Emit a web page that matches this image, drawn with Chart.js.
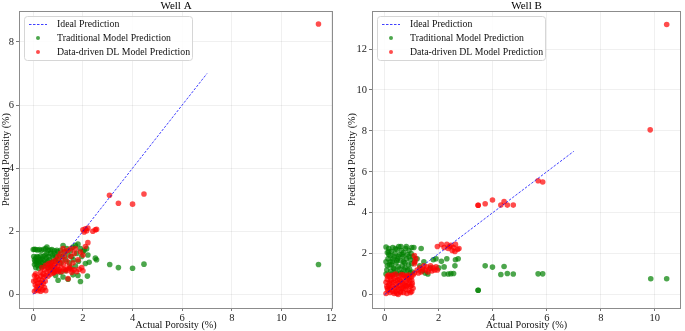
<!DOCTYPE html>
<html lang="en">
<head>
<meta charset="UTF-8">
<title>Porosity prediction - Well A / Well B</title>
<script src="https://cdn.jsdelivr.net/npm/chart.js@4.4.1/dist/chart.umd.min.js"></script>
<style>
  body { margin: 0; background: #fff; }
  #wrap { position: relative; width: 685px; height: 331px; overflow: hidden; }
  #chartA { position: absolute; left: 0; top: 0; }
  #chartB { position: absolute; left: 340px; top: 0; }
</style>
</head>
<body>
<div id="wrap">
  <canvas id="chartA" width="340" height="331"></canvas>
  <canvas id="chartB" width="345" height="331"></canvas>
</div>

<!-- data: [actual, predicted] -->
<script>
const idealX = [0, 7];
const idealY = [0, 7];

const xTicksA = [0, 2, 4, 6, 8, 10, 12];
const yTicksA = [0, 2, 4, 6, 8];
const xTicksB = [0, 2, 4, 6, 8, 10];
const yTicksB = [0, 2, 4, 6, 8, 10, 12];

const wellATraditional = [
  [0.0,1.42],[0.05,1.43],[0.1,1.42],[0.18,1.41],[0.25,1.42],[0.33,1.4],[0.42,1.43],[0.5,1.45],[0.55,1.5],
  [0.6,1.4],[0.68,1.41],[0.75,1.42],[0.85,1.38],[0.95,1.4],
  [0.02,1.2],[0.05,1.1],[0.05,0.95],[0.08,1.05],[0.1,1.15],[0.1,0.85],[0.12,0.98],[0.15,1.2],[0.15,1.08],
  [0.18,0.92],[0.2,1.02],[0.2,1.18],[0.22,0.82],[0.25,1.1],[0.27,0.95],[0.3,1.22],[0.3,1.05],[0.33,0.88],
  [0.35,1.12],[0.38,1.0],[0.4,1.2],[0.42,0.9],[0.45,1.08],[0.48,1.25],[0.5,0.98],[0.52,1.15],[0.55,1.3],
  [0.58,1.05],[0.62,1.2],[0.65,1.1],[0.7,1.3],[0.72,1.0],[0.78,1.25],[0.8,1.15],[0.85,1.3],[0.9,1.05],
  [0.92,1.2],[0.98,1.35],[1.0,1.1],[1.05,1.25],[1.1,1.4],[1.12,1.0],[1.18,1.2],[1.2,1.55],[1.25,1.35],
  [1.3,1.1],[1.35,1.45],[1.4,1.25],[1.45,1.0],[1.5,1.38],[1.55,1.2],[1.6,1.5],[1.62,1.1],[1.7,1.55],
  [1.75,1.3],[1.8,1.6],[1.82,1.05],[1.9,1.45],[1.95,1.2],[2.0,1.35],[2.05,1.4],[2.1,0.98],[2.15,1.45],
  [2.2,1.25],[2.25,1.02],[2.5,1.15],[2.55,1.1],
  [1.0,0.45],[1.2,0.55],[1.4,0.48],[1.6,0.62],[1.8,0.6],[1.9,0.41],[2.18,0.58],[0.9,0.6],[1.1,0.7],
  [1.3,0.75],[1.5,0.85],[1.7,0.9],[0.6,0.85],[0.7,0.9],[0.8,0.75],
  [3.08,0.95],[3.43,0.85],[4.0,0.83],[4.46,0.96],[11.49,0.95]
];

const wellADL = [
  [0.05,0.1],[0.08,0.3],[0.1,0.45],[0.12,0.15],[0.15,0.25],[0.15,0.55],[0.18,0.35],[0.2,0.12],[0.22,0.48],
  [0.25,0.2],[0.28,0.38],[0.3,0.1],[0.3,0.58],[0.33,0.28],[0.35,0.45],[0.38,0.15],[0.4,0.35],[0.42,0.55],
  [0.45,0.22],[0.48,0.42],[0.5,0.12],[0.02,0.42],[0.05,0.6],[0.1,0.65],
  [0.3,0.7],[0.35,0.85],[0.4,0.65],[0.45,0.78],[0.5,0.6],[0.5,0.92],[0.55,0.72],[0.58,0.85],[0.6,0.58],
  [0.62,0.98],[0.65,0.75],[0.68,0.88],[0.7,0.65],[0.72,1.0],[0.75,0.8],[0.78,0.92],[0.8,0.68],[0.82,1.05],
  [0.85,0.85],[0.88,0.75],[0.9,0.95],[0.92,1.1],[0.95,0.8],[0.98,0.9],[1.0,1.2],[1.02,0.72],
  [1.05,1.0],[1.1,1.3],[1.12,0.85],[1.15,1.1],[1.2,1.45],[1.22,0.95],[1.25,1.2],[1.3,1.35],[1.32,0.8],
  [1.35,1.05],[1.4,1.4],[1.45,0.9],[1.5,1.2],[1.52,1.45],[1.55,0.78],[1.6,1.0],[1.65,1.3],
  [0.85,0.7],[0.95,0.75],[1.05,0.78],[1.15,0.72],[1.25,0.8],[1.35,0.75],[1.45,0.82],[1.55,0.7],[1.65,0.78],
  [1.75,0.72],[1.85,0.8],[1.95,0.85],[2.0,0.75],[1.4,0.5],
  [1.7,1.45],[1.8,1.1],[1.9,1.35],[2.0,1.25],[2.1,1.52],[2.2,1.64],
  [2.0,2.05],[2.05,1.98],[2.1,2.08],[2.15,2.02],[2.2,2.1],[2.4,2.0],[2.5,2.05],[2.55,2.06],
  [3.07,3.14],[3.43,2.89],[4.0,2.86],[4.46,3.18],[11.49,8.57]
];

const wellBTraditional = [
  [0.05,2.32],[0.1,2.05],[0.12,1.75],[0.15,2.25],[0.18,1.45],[0.2,1.9],[0.22,1.15],[0.25,2.1],[0.28,1.6],
  [0.3,2.3],[0.32,1.3],[0.35,1.85],[0.38,2.0],[0.4,1.1],[0.42,1.55],[0.45,2.2],[0.48,1.75],[0.5,1.35],
  [0.52,2.35],[0.55,1.95],[0.58,1.05],[0.6,1.65],[0.62,2.15],[0.65,1.4],[0.68,1.85],[0.7,2.05],[0.72,1.2],
  [0.75,1.55],[0.78,2.25],[0.8,1.75],[0.82,1.0],[0.85,1.95],[0.88,1.45],[0.9,2.15],[0.92,1.25],[0.95,1.7],
  [0.98,2.0],[1.0,1.5],[1.02,1.1],[1.05,1.85],[1.08,2.3],[1.1,1.6],[0.05,1.6],[0.08,1.2],[0.1,1.4],
  [0.05,1.0],[0.15,1.95],[0.25,1.0],[0.35,1.25],[0.45,1.0],[0.55,1.25],[0.65,1.05],[0.75,1.3],[0.85,1.2],
  [0.95,1.05],[0.3,1.75],[0.5,1.85],[0.7,1.6],[0.9,1.85],[0.2,1.6],[0.4,2.25],[0.6,2.35],[0.8,2.35],
  [1.0,2.3],[0.15,2.1],[0.45,1.65],[0.65,1.95],[0.25,1.45],
  [1.35,2.25],[1.2,1.75],[1.3,1.4],[1.4,1.15],[1.5,1.05],[1.6,1.0],[1.7,1.3],[1.8,1.7],[1.9,1.75],
  [2.0,1.3],[2.1,1.62],[2.2,1.35],[2.3,1.75],[2.35,1.0],[2.45,1.02],[2.55,1.03],[2.6,1.4],[2.62,1.7],
  [2.72,1.75],[2.2,1.0],[1.45,1.6],
  [3.46,0.21],[3.46,0.21],[3.72,1.40],[3.99,1.34],[4.42,1.37],[4.3,0.98],[4.54,1.03],[4.76,1.0],
  [5.68,1.01],[5.85,1.01],[9.85,0.77],[10.44,0.77]
];

const wellBDL = [
  [0.05,0.05],[0.08,0.4],[0.1,0.75],[0.12,0.2],[0.15,0.95],[0.18,0.55],[0.2,0.1],[0.22,0.7],[0.25,0.35],
  [0.28,0.9],[0.3,0.15],[0.32,0.6],[0.35,0.8],[0.38,0.3],[0.4,1.0],[0.42,0.5],[0.45,0.05],[0.48,0.72],
  [0.5,0.25],[0.52,0.9],[0.55,0.45],[0.58,0.15],[0.6,0.65],[0.62,0.98],[0.65,0.35],[0.68,0.8],[0.7,0.1],
  [0.72,0.55],[0.75,0.85],[0.78,0.25],[0.8,0.65],[0.82,0.05],[0.85,0.45],[0.88,0.95],[0.9,0.2],[0.92,0.7],
  [0.95,0.4],[0.98,0.85],[1.0,0.15],[1.02,0.55],[1.05,0.95],[0.05,0.6],[0.1,0.3],[0.15,0.45],[0.2,0.85],
  [0.25,0.6],[0.3,0.4],[0.35,0.05],[0.4,0.7],[0.45,0.35],[0.5,0.55],[0.55,0.75],[0.6,0.3],[0.65,0.55],
  [0.7,0.95],[0.75,0.45],[0.8,0.4],[0.85,0.75],[0.9,0.5],[0.95,0.1],[1.0,0.7],[1.05,0.3],[0.1,0.9],
  [0.3,0.95],[0.5,0.0],[0.7,0.3],[0.9,0.85],[0.2,0.25],[0.6,0.1],[0.4,0.15],[0.8,0.9],[1.0,0.45],
  [1.1,1.9],[1.12,1.6],[1.15,1.75],[1.1,1.5],
  [1.1,1.05],[1.2,1.2],[1.3,1.3],[1.35,1.1],[1.4,1.25],[1.5,1.2],[1.55,1.35],[1.6,1.1],[1.65,1.25],
  [1.7,1.4],[1.75,1.15],[1.8,1.3],[1.85,1.2],[1.9,1.35],[1.95,1.2],[1.25,1.05],[1.45,1.4],
  [1.95,2.35],[2.1,2.45],[2.2,2.3],[2.3,2.45],[2.35,2.25],[2.4,2.35],[2.45,2.4],[2.5,2.15],[2.55,2.3],
  [2.62,2.45],[2.7,2.2],[2.75,2.25],[2.6,2.1],
  [3.46,4.36],[3.46,4.36],[3.72,4.44],[3.99,4.62],[4.3,4.37],[4.42,4.54],[4.54,4.37],[4.76,4.37],
  [5.68,5.56],[5.85,5.5],[9.83,8.05],[10.44,13.2]
];
</script>

<script>
const SERIF = '"Liberation Serif", "Times New Roman", serif';
const GREEN = 'rgba(0,128,0,0.7)';
const RED = 'rgba(255,0,0,0.7)';
const BLUE = 'rgba(0,0,255,0.75)';

const toXY = pairs => pairs.map(p => ({x: p[0], y: p[1]}));

// frame (all four spines), title and a matplotlib-like boxed legend
const framePlugin = {
  id: 'frame',
  afterDraw(chart, args, opts) {
    const ctx = chart.ctx;
    const a = chart.chartArea;
    ctx.save();
    ctx.strokeStyle = '#8c8c8c';
    ctx.lineWidth = 1;
    ctx.strokeRect(Math.round(a.left) + 0.5, Math.round(a.top) + 0.5,
                   Math.round(a.right - a.left) - 1, Math.round(a.bottom - a.top));

    ctx.fillStyle = '#000';
    ctx.font = '11px ' + SERIF;
    ctx.textAlign = 'center';
    ctx.textBaseline = 'alphabetic';
    ctx.fillText(opts.title, (a.left + a.right) / 2, 8.5);

    // legend
    const bx = a.left + 5, by = a.top + 5, bw = 168, bh = 44;
    ctx.beginPath();
    ctx.roundRect(bx + 0.5, by + 0.5, bw, bh, 3);
    ctx.fillStyle = 'rgba(255,255,255,0.85)';
    ctx.fill();
    ctx.strokeStyle = '#d6d6d6';
    ctx.stroke();

    ctx.font = '9.8px ' + SERIF;
    ctx.textAlign = 'left';
    ctx.textBaseline = 'middle';
    const rows = [
      {label: 'Ideal Prediction', kind: 'line', color: BLUE},
      {label: 'Traditional Model Prediction', kind: 'dot', color: GREEN},
      {label: 'Data-driven DL Model Prediction', kind: 'dot', color: RED}
    ];
    rows.forEach((r, i) => {
      const ry = by + 8 + i * 14;
      if (r.kind === 'line') {
        ctx.strokeStyle = r.color;
        ctx.setLineDash([2.5, 1.5]);
        ctx.beginPath();
        ctx.moveTo(bx + 5, ry + 0.5);
        ctx.lineTo(bx + 23, ry + 0.5);
        ctx.stroke();
        ctx.setLineDash([]);
      } else {
        ctx.fillStyle = r.color;
        ctx.beginPath();
        ctx.arc(bx + 14, ry, 2, 0, Math.PI * 2);
        ctx.fill();
      }
      ctx.fillStyle = '#111';
      ctx.fillText(r.label, bx + 33, ry + 0.5);
    });
    ctx.restore();
  }
};

function createChart(id, cfg) {
  const tickFont = {family: SERIF, size: 10.5};
  const titleFont = {family: SERIF, size: 10.2};
  const grid = {
    color: 'rgba(0,0,0,0.08)',
    tickColor: '#555',
    tickLength: 3,
    tickBorderDash: [],
    borderDash: [3, 2],
    lineWidth: 0.8
  };
  return new Chart(document.getElementById(id), {
    type: 'scatter',
    data: {
      datasets: [
        {
          label: 'Ideal Prediction',
          data: idealX.map((v, i) => ({x: v, y: idealY[i]})),
          showLine: true,
          borderColor: BLUE,
          borderWidth: 1,
          borderDash: [2.5, 1.5],
          pointRadius: 0,
          order: 0
        },
        {
          label: 'Traditional Model Prediction',
          data: toXY(cfg.trad),
          backgroundColor: GREEN,
          borderWidth: 0,
          pointRadius: 2.8,
          order: 2
        },
        {
          label: 'Data-driven DL Model Prediction',
          data: toXY(cfg.dl),
          backgroundColor: RED,
          borderWidth: 0,
          pointRadius: 2.8,
          order: 1
        }
      ]
    },
    options: {
      responsive: false,
      animation: false,
      events: [],
      layout: {padding: cfg.padding},
      plugins: {
        legend: {display: false},
        tooltip: {enabled: false},
        frame: {title: cfg.title}
      },
      scales: {
        x: {
          type: 'linear',
          min: cfg.xRange[0], max: cfg.xRange[1],
          afterFit(s) { s.height = 23; },
          afterBuildTicks(s) { s.ticks = cfg.xTicks.map(v => ({value: v})); },
          ticks: {font: tickFont, color: '#222', padding: 1, maxRotation: 0},
          grid: grid,
          border: {display: false},
          title: {display: true, text: 'Actual Porosity (%)', font: titleFont, color: '#111', padding: 0}
        },
        y: {
          type: 'linear',
          min: cfg.yRange[0], max: cfg.yRange[1],
          afterFit(s) { s.width = cfg.yWidth; },
          afterBuildTicks(s) { s.ticks = cfg.yTicks.map(v => ({value: v})); },
          ticks: {font: tickFont, color: '#222', padding: 2},
          grid: grid,
          border: {display: false},
          title: {display: true, text: 'Predicted Porosity (%)', font: titleFont, color: '#111',
                  padding: {top: cfg.yTitlePad, bottom: 0}}
        }
      }
    },
    plugins: [framePlugin]
  });
}

createChart('chartA', {
  title: 'Well A',
  trad: wellATraditional,
  dl: wellADL,
  xTicks: xTicksA, yTicks: yTicksA,
  xRange: [-0.575, 12.075], yRange: [-0.43, 8.98],
  yWidth: 19, yTitlePad: 0,
  padding: {left: 0, right: 7, top: 11, bottom: 0}
});

createChart('chartB', {
  title: 'Well B',
  trad: wellBTraditional,
  dl: wellBDL,
  xTicks: xTicksB, yTicks: yTicksB,
  xRange: [-0.47, 10.97], yRange: [-0.66, 13.86],
  yWidth: 32, yTitlePad: 6,
  padding: {left: 0, right: 1, top: 11, bottom: 0}
});
</script>
</body>
</html>
